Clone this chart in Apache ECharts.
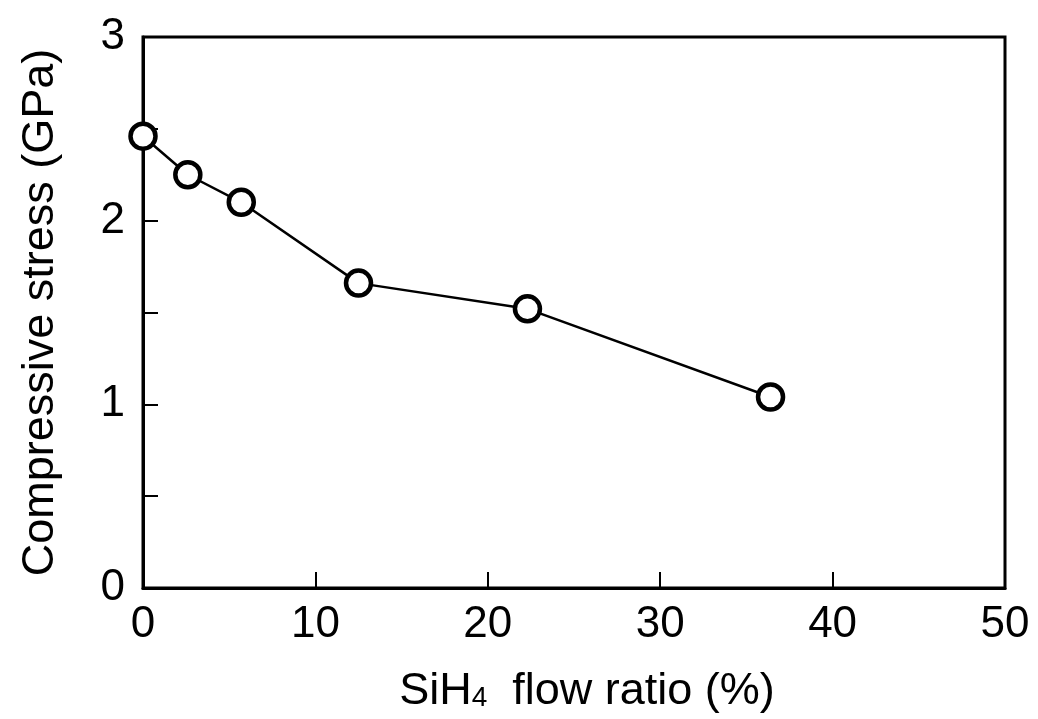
<!DOCTYPE html>
<html>
<head>
<meta charset="utf-8">
<script src="https://cdn.jsdelivr.net/npm/echarts@6/dist/echarts.min.js"></script>
<style>
  html, body { margin: 0; padding: 0; background: #fff; }
  #chart { width: 1038px; height: 719px; }
</style>
</head>
<body>
<div id="chart"></div>
<script>
// SiH4 flow ratio (%) vs compressive stress (GPa)
const flowRatio = [0, 2.6, 5.7, 12.5, 22.3, 36.4];
const stress = [2.46, 2.25, 2.10, 1.66, 1.52, 1.04];
const xTicks = [0, 10, 20, 30, 40, 50];
const yTicks = [0, 1, 2, 3];

const font = 'Liberation Sans, Arial, sans-serif';
const chart = echarts.init(document.getElementById('chart'), null, { renderer: 'canvas' });

chart.setOption({
  backgroundColor: '#ffffff',
  animation: false,
  grid: {
    left: 143, right: 33, top: 37, bottom: 131,
    show: true, borderColor: '#000', borderWidth: 3, backgroundColor: 'transparent'
  },
  xAxis: {
    type: 'value',
    min: xTicks[0], max: xTicks[xTicks.length - 1], interval: 10,
    name: 'SiH{sub|4}  flow ratio (%)',
    nameLocation: 'middle',
    nameGap: 81,
    nameTextStyle: {
      fontFamily: font, fontSize: 45, color: '#000',
      padding: [0, 0, 0, 26],
      rich: {
        sub: { fontFamily: font, fontSize: 28, color: '#000', padding: [14, 0, 0, 0] }
      }
    },
    axisLine: { show: true, lineStyle: { color: '#000', width: 3 } },
    axisTick: {
      show: true, inside: true, length: 16,
      lineStyle: { color: '#000', width: 2 }
    },
    axisLabel: {
      fontFamily: font, fontSize: 44, color: '#000', margin: 15,
      formatter: v => xTicks.includes(v) ? String(v) : ''
    },
    splitLine: { show: false }
  },
  yAxis: {
    type: 'value',
    min: 0, max: 3, interval: 0.5,
    name: 'Compressive stress (GPa)',
    nameLocation: 'middle',
    nameGap: 80,
    nameTextStyle: { fontFamily: font, fontSize: 45, color: '#000' },
    axisLine: { show: true, lineStyle: { color: '#000', width: 3 } },
    axisTick: {
      show: true, inside: true, length: 15,
      lineStyle: { color: '#000', width: 2 }
    },
    axisLabel: {
      fontFamily: font, fontSize: 44, color: '#000', margin: 18,
      padding: [0, 0, 12, 0],
      formatter: v => yTicks.includes(v) ? String(v) : ''
    },
    splitLine: { show: false }
  },
  series: [{
    type: 'line',
    data: flowRatio.map((x, i) => [x, stress[i]]),
    symbol: 'circle',
    symbolSize: 25,
    lineStyle: { color: '#000', width: 2.5 },
    itemStyle: { color: '#fff', borderColor: '#000', borderWidth: 4.5 },
    clip: false,
    z: 5
  }]
});
</script>
</body>
</html>
